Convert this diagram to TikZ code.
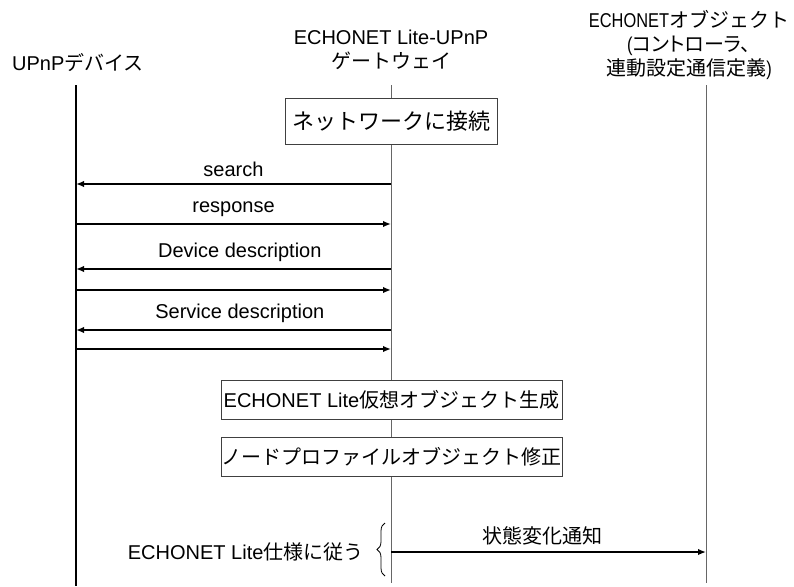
\documentclass[tikz,border=0pt]{standalone}
\usepackage{fontspec}
\setmainfont{Liberation Sans}
\newfontfamily\narrowfont{Liberation Sans}[FakeStretch=0.82]
\newfontfamily\jpfont{Noto Sans CJK JP}
\newfontfamily\jppfont{Noto Sans CJK JP}[RawFeature=+palt]
\newcommand{\jp}[1]{{\jpfont #1}}
\newcommand{\jpp}[1]{{\jppfont #1}}
\usetikzlibrary{positioning, arrows.meta, decorations.pathreplacing}

\begin{document}
\begin{tikzpicture}[x=1pt, y=-1pt, font=\fontsize{20}{24}\selectfont,
  life/.style={line width=1pt, black!60},
  msg/.style={-{Latex[length=8pt,width=6.5pt]}, line width=1.8pt},
  lbl/.style={above, yshift=3pt},
  proc/.style={draw=black!75, line width=1pt, fill=white, inner sep=0pt, minimum height=39pt}]
  \useasboundingbox (0,0) rectangle (794,586);

  % participants
  \node (dev) at (78,63) {UPnP\jp{デバイス}};
  \node[align=center] (gw) at (391,50) {ECHONET Lite-UPnP\\\jp{ゲートウェイ}};
  \node[align=center] (obj) at (689,45) {{\narrowfont ECHONET}\jp{オブジェクト}\\{\narrowfont (}\jpp{コントローラ、}\\\jp{連動設定通信定義}{\narrowfont )}};

  \coordinate (devtop) at (76,85);
  \coordinate (devend) at (76,586);
  \coordinate (gwtop) at (391,85);
  \coordinate (gwend) at (391,583);
  \coordinate (objtop) at (706,85);
  \coordinate (objend) at (706,583);

  \draw[life, line width=1.1pt, black] (devtop) -- (devend);
  \draw[life] (gwtop) -- (gwend);
  \draw[life] (objtop) -- (objend);

  % processing on the gateway
  \node[proc, minimum width=212pt, minimum height=46pt, font=\fontsize{22}{26}\selectfont] (connect) at (391,121) {\jp{ネットワークに接続}};
  \node[proc, minimum width=341pt] (create) at (391.5,399.5) {ECHONET Lite\jp{仮想オブジェクト生成}};
  \node[proc, minimum width=341pt] (modify) at (391.5,457) {\jp{ノードプロファイルオブジェクト修正}};

  % messages
  \coordinate (d1) at (76,184);  \coordinate (g1) at (391,184);
  \coordinate (d2) at (76,224);  \coordinate (g2) at (391,224);
  \coordinate (d3) at (76,269);  \coordinate (g3) at (391,269);
  \coordinate (d4) at (76,290);  \coordinate (g4) at (391,290);
  \coordinate (d5) at (76,330);  \coordinate (g5) at (391,330);
  \coordinate (d6) at (76,349);  \coordinate (g6) at (391,349);
  \coordinate (g7) at (391,552); \coordinate (o7) at (706,552);

  \path[msg]
  (g1) edge node[lbl] {search} (d1)
  (d2) edge node[lbl] {response} (g2)
  (g3) edge node[lbl, pos=0.48] {Device description} (d3)
  (d4) edge (g4)
  (g5) edge node[lbl, pos=0.48] {Service description} (d5)
  (d6) edge (g6)
  (g7) edge node[lbl, pos=0.48] {\jp{状態変化通知}} (o7);

  % ECHONET Lite spec
  \coordinate (brtop) at (385,523);
  \coordinate (brbot) at (385,576);
  \coordinate (brtip) at (375,552);
  \draw[decorate, decoration={brace, amplitude=8pt}, line width=0.8pt] (brbot) -- (brtop);
  \node[left=8pt of brtip] (spec) {ECHONET Lite\jp{仕様に従う}};
\end{tikzpicture}
\end{document}
